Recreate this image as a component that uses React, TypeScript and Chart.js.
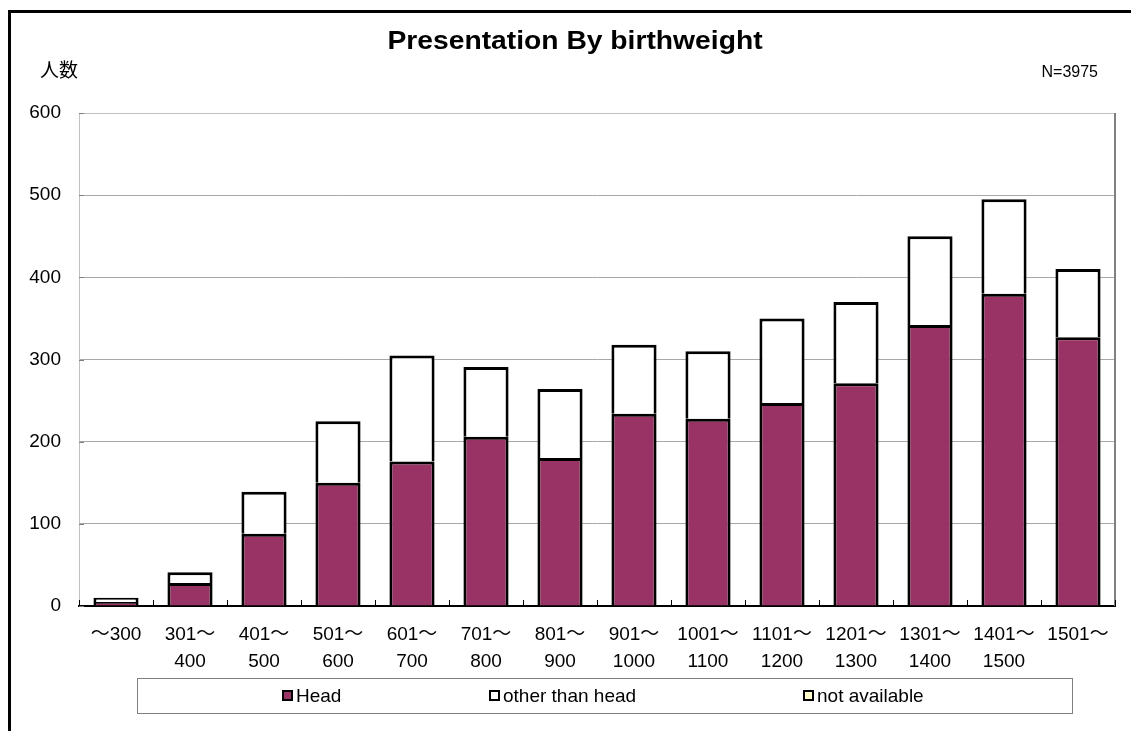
import React, { useEffect, useRef } from "react";
import { Chart, registerables } from "chart.js";

Chart.register(...registerables);

const categories: (string | string[])[] = [
  "～300",
  ["301～", "400"],
  ["401～", "500"],
  ["501～", "600"],
  ["601～", "700"],
  ["701～", "800"],
  ["801～", "900"],
  ["901～", "1000"],
  ["1001～", "1100"],
  ["1101～", "1200"],
  ["1201～", "1300"],
  ["1301～", "1400"],
  ["1401～", "1500"],
  "1501～",
];

const headValues = [5, 28, 88, 150, 176, 206, 180, 234, 228, 247, 271, 342, 380, 327];
const otherValues = [5, 13, 51, 75, 129, 85, 84, 84, 82, 103, 99, 108, 115, 83];
const notAvailableValues = [0, 0, 0, 0, 0, 0, 0, 0, 0, 0, 0, 0, 0, 0];

const seriesNames = ["Head", "other than head", "not available"];
const seriesColors = ["#993366", "#FFFFFF", "#FFFFCC"];

const yTicks = [0, 100, 200, 300, 400, 500, 600];

const titleText = "Presentation By birthweight";
const yAxisLabel = "人数";
const nLabel = "N=3975";

const FONT = "'Liberation Sans', 'Noto Sans CJK JP', Arial, sans-serif";

const decorPlugin = {
  id: "decor",
  afterDraw(chart: any) {
    const ctx = chart.ctx as CanvasRenderingContext2D;
    const area = chart.chartArea;
    const xs = chart.scales.x;
    const ys = chart.scales.y;
    ctx.save();

    // right border of plot area
    ctx.strokeStyle = "#808080";
    ctx.lineWidth = 2;
    ctx.beginPath();
    ctx.moveTo(area.right, area.top);
    ctx.lineTo(area.right, area.bottom);
    ctx.stroke();

    // inside ticks on x axis at category boundaries
    ctx.strokeStyle = "#000";
    ctx.lineWidth = 1;
    const n = chart.data.labels.length;
    const step = n > 1 ? xs.getPixelForValue(1) - xs.getPixelForValue(0) : area.width;
    ctx.beginPath();
    for (let i = 0; i <= n; i++) {
      const x = Math.round(xs.getPixelForValue(0) - step / 2 + i * step) + 0.5;
      ctx.moveTo(x, area.bottom);
      ctx.lineTo(x, area.bottom - 6);
    }
    ctx.stroke();

    // inside ticks on y axis
    ctx.strokeStyle = "#808080";
    ctx.beginPath();
    for (const v of yTicks) {
      const y = Math.round(ys.getPixelForValue(v)) + 0.5;
      ctx.moveTo(area.left, y);
      ctx.lineTo(area.left + 5, y);
    }
    ctx.stroke();

    // title (slightly widened to match the original face)
    ctx.fillStyle = "#000";
    ctx.font = `bold 25px ${FONT}`;
    ctx.textAlign = "center";
    ctx.textBaseline = "alphabetic";
    ctx.save();
    ctx.translate(575, 49);
    ctx.scale(1.13, 1);
    ctx.fillText(titleText, 0, 0);
    ctx.restore();

    // axis unit label
    ctx.font = `19px ${FONT}`;
    ctx.textAlign = "left";
    ctx.textBaseline = "middle";
    ctx.fillText(yAxisLabel, 40, 72);

    // N label
    ctx.font = `16px ${FONT}`;
    ctx.textAlign = "right";
    ctx.textBaseline = "alphabetic";
    ctx.fillText(nLabel, 1098, 77);

    // legend
    const lx = 137, ly = 678, lw = 935, lh = 35;
    ctx.strokeStyle = "#808080";
    ctx.lineWidth = 1;
    ctx.fillStyle = "#FFFFFF";
    ctx.fillRect(lx, ly, lw, lh);
    ctx.strokeRect(lx + 0.5, ly + 0.5, lw, lh);
    const itemX = [282, 489, 803];
    const cy = ly + lh / 2;
    ctx.font = `19px ${FONT}`;
    ctx.textAlign = "left";
    ctx.textBaseline = "middle";
    chart.data.datasets.forEach((ds: any, i: number) => {
      const mx = itemX[i];
      const size = 11;
      ctx.fillStyle = "#000";
      ctx.fillRect(mx, cy - size / 2, size, size);
      ctx.fillStyle = ds.backgroundColor;
      ctx.fillRect(mx + 2, cy - size / 2 + 2, size - 4, size - 4);
      ctx.fillStyle = "#000";
      ctx.fillText(ds.label, mx + 14, cy + 1);
    });

    ctx.restore();
  },
};

export default function App() {
  const canvasRef = useRef<HTMLCanvasElement | null>(null);

  useEffect(() => {
    if (!canvasRef.current) return;
    const common = {
      borderColor: "#000",
      borderWidth: 3,
      borderSkipped: "bottom",
      barPercentage: 0.61,
      categoryPercentage: 1,
      inflateAmount: 0,
    };
    const chart = new Chart(canvasRef.current, {
      type: "bar",
      data: {
        labels: categories as any,
        datasets: [
          { label: seriesNames[0], data: headValues, backgroundColor: seriesColors[0], ...common },
          { label: seriesNames[1], data: otherValues, backgroundColor: seriesColors[1], ...common },
          { label: seriesNames[2], data: notAvailableValues, backgroundColor: seriesColors[2], ...common },
        ] as any,
      },
      options: {
        animation: false,
        responsive: false,
        maintainAspectRatio: false,
        layout: { padding: { top: 113, right: 16, left: 0, bottom: 0 } },
        plugins: {
          legend: { display: false },
          title: { display: false },
          tooltip: { enabled: false },
        },
        scales: {
          x: {
            stacked: true,
            offset: true,
            grid: { display: false, drawTicks: false },
            border: { color: "#000", width: 2 },
            ticks: {
              color: "#000",
              font: { family: FONT, size: 19, lineHeight: 1.42 },
              padding: 15,
              maxRotation: 0,
              autoSkip: false,
            },
            afterFit(scale: any) {
              scale.height = 125;
            },
          },
          y: {
            stacked: true,
            min: 0,
            max: 600,
            grid: {
              drawTicks: false,
              color: (c: any) =>
                c.tick && c.tick.value === 600
                  ? "#c0c0c0"
                  : c.tick && c.tick.value === 0
                  ? "rgba(0,0,0,0)"
                  : "#a8a8a8",
              lineWidth: 1,
            },
            border: { color: "#c0c0c0", width: 1 },
            ticks: {
              stepSize: 100,
              color: "#000",
              font: { family: FONT, size: 19 },
              padding: 18,
            },
            afterFit(scale: any) {
              scale.width = 79;
            },
          },
        },
      },
      plugins: [decorPlugin],
    });
    return () => chart.destroy();
  }, []);

  return (
    <div
      style={{
        position: "fixed",
        left: 0,
        top: 0,
        width: 1131,
        height: 731,
        overflow: "hidden",
        background: "#fff",
      }}
    >
      <div
        style={{
          position: "absolute",
          left: 8,
          top: 10,
          width: 2000,
          height: 2000,
          border: "3px solid #000",
        }}
      />
      <canvas
        ref={canvasRef}
        width={1131}
        height={731}
        style={{ position: "absolute", left: 0, top: 0, width: 1131, height: 731 }}
      />
    </div>
  );
}
